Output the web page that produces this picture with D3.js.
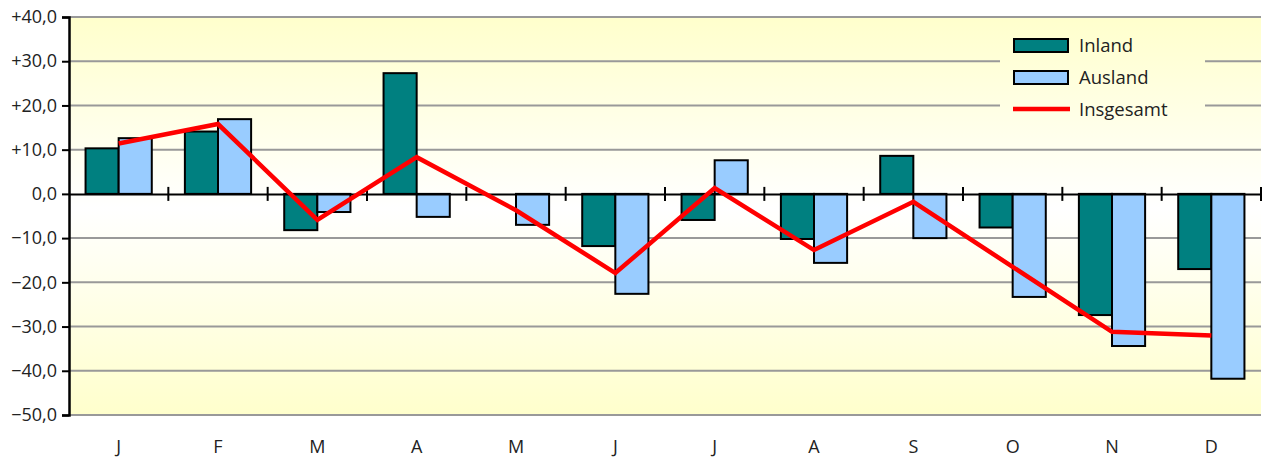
<!DOCTYPE html>
<html lang="de">
<head>
<meta charset="UTF-8">
<title>Inland / Ausland / Insgesamt</title>
<script src="https://d3js.org/d3.v7.min.js"></script>
<style>
  body { margin: 0; background: #fff; }
  text { font-family: "Open Sans", "DejaVu Sans", sans-serif; fill: #222; }
</style>
</head>
<body>
<svg id="chart" width="1262" height="459"></svg>
<script>
// data
const months = ['J', 'F', 'M', 'A', 'M', 'J', 'J', 'A', 'S', 'O', 'N', 'D'];
const inland = [10.3, 14.1, -8.2, 27.3, 0.0, -11.8, -5.9, -10.2, 8.6, -7.6, -27.4, -17.0];
const ausland = [12.6, 16.9, -4.1, -5.2, -7.0, -22.6, 7.6, -15.6, -10.0, -23.3, -34.4, -41.8];
const insgesamt = [11.4, 15.8, -5.9, 8.3, -3.7, -17.9, 1.3, -12.7, -1.8, -16.5, -31.2, -32.0];
const yTicks = [40, 30, 20, 10, 0, -10, -20, -30, -40, -50];
const seriesNames = ['Inland', 'Ausland', 'Insgesamt'];
const colors = { Inland: '#008080', Ausland: '#99ccff', Insgesamt: '#ff0000' };

const svg = d3.select('#chart');
const margin = { top: 17, right: 1, bottom: 44, left: 69 };
const width = +svg.attr('width');
const height = +svg.attr('height');

const x = d3.scaleBand()
    .domain(d3.range(months.length))
    .range([margin.left, width - margin.right]);

const y = d3.scaleLinear()
    .domain([-50, 40])
    .range([height - margin.bottom, margin.top]);

const barW = x.bandwidth() / 3;
const cx = i => x(i) + x.bandwidth() / 2;

// background gradient: yellow at top and bottom, white round zero
const defs = svg.append('defs');
const grad = defs.append('linearGradient')
    .attr('id', 'bg')
    .attr('gradientUnits', 'userSpaceOnUse')
    .attr('x1', 0).attr('x2', 0)
    .attr('y1', y(40)).attr('y2', y(-50));
grad.append('stop').attr('offset', '0%').attr('stop-color', '#ffffcc');
grad.append('stop').attr('offset', '48%').attr('stop-color', '#ffffff');
grad.append('stop').attr('offset', '100%').attr('stop-color', '#ffffcc');

svg.append('rect')
    .attr('x', margin.left)
    .attr('y', y(40))
    .attr('width', width - margin.right - margin.left)
    .attr('height', y(-50) - y(40))
    .attr('fill', 'url(#bg)');

// gridlines
svg.append('g')
    .selectAll('line')
    .data(yTicks.filter(d => d !== 0))
    .join('line')
    .attr('x1', margin.left)
    .attr('x2', width - margin.right)
    .attr('y1', d => y(d))
    .attr('y2', d => y(d))
    .attr('stroke', '#999')
    .attr('stroke-width', 2);

// bars
const bars = svg.append('g');
bars.selectAll('.inland')
    .data(inland)
    .join('rect')
    .attr('class', 'inland')
    .attr('x', (d, i) => cx(i) - barW)
    .attr('y', d => y(Math.max(0, d)))
    .attr('width', barW)
    .attr('height', d => Math.abs(y(d) - y(0)))
    .attr('fill', colors.Inland)
    .attr('stroke', '#000')
    .attr('stroke-width', 2);

bars.selectAll('.ausland')
    .data(ausland)
    .join('rect')
    .attr('class', 'ausland')
    .attr('x', (d, i) => cx(i))
    .attr('y', d => y(Math.max(0, d)))
    .attr('width', barW)
    .attr('height', d => Math.abs(y(d) - y(0)))
    .attr('fill', colors.Ausland)
    .attr('stroke', '#000')
    .attr('stroke-width', 2);

// zero axis with category ticks
svg.append('g')
    .attr('transform', `translate(0,${y(0)})`)
    .call(d3.axisBottom(x).tickSize(0).tickFormat(''))
    .call(g => g.select('.domain').attr('stroke', '#000').attr('stroke-width', 2))
    .call(g => g.selectAll('.tick').remove());

svg.append('g')
    .selectAll('line')
    .data(d3.range(1, months.length + 1))
    .join('line')
    .attr('x1', i => x(i - 1) + x.bandwidth())
    .attr('x2', i => x(i - 1) + x.bandwidth())
    .attr('y1', y(0) - 7)
    .attr('y2', y(0) + 7)
    .attr('stroke', '#000')
    .attr('stroke-width', 2);

// month labels
svg.append('g')
    .selectAll('text')
    .data(months)
    .join('text')
    .attr('x', (d, i) => cx(i))
    .attr('y', 453)
    .attr('text-anchor', 'middle')
    .style('font-size', '18px')
    .text(d => d);

// total line
const line = d3.line()
    .x((d, i) => cx(i))
    .y(d => y(d));

svg.append('path')
    .datum(insgesamt)
    .attr('fill', 'none')
    .attr('stroke', colors.Insgesamt)
    .attr('stroke-width', 4.5)
    .attr('stroke-linejoin', 'miter')
    .attr('d', line);

// left axis
svg.append('g')
    .attr('transform', `translate(${margin.left},0)`)
    .call(d3.axisLeft(y).tickValues(yTicks).tickSize(7).tickPadding(5)
        .tickFormat(d => (d > 0 ? '+' : '') + d3.format('.1f')(d).replace('.', ',')))
    .call(g => g.select('.domain').attr('stroke', '#000').attr('stroke-width', 2.5))
    .call(g => g.selectAll('.tick line').attr('stroke', '#000').attr('stroke-width', 2))
    .call(g => g.selectAll('.tick text').style('font-size', '18px').attr('fill', '#222'));

// legend
const legend = svg.append('g');
legend.append('rect')
    .attr('x', 1000).attr('y', 26)
    .attr('width', 205).attr('height', 100)
    .attr('fill', 'url(#bg)');

const item = legend.selectAll('.item')
    .data(seriesNames)
    .join('g')
    .attr('class', 'item')
    .attr('transform', (d, i) => `translate(1014,${45 + i * 32})`);

item.filter(d => d !== 'Insgesamt')
    .append('rect')
    .attr('x', 0).attr('y', -6)
    .attr('width', 54).attr('height', 13)
    .attr('fill', d => colors[d])
    .attr('stroke', '#000')
    .attr('stroke-width', 2);

item.filter(d => d === 'Insgesamt')
    .append('line')
    .attr('x1', -1).attr('x2', 56)
    .attr('y1', 0).attr('y2', 0)
    .attr('stroke', colors.Insgesamt)
    .attr('stroke-width', 4.5);

item.append('text')
    .attr('x', 65)
    .attr('y', 7)
    .style('font-size', '18.5px')
    .text(d => d);
</script>
</body>
</html>
